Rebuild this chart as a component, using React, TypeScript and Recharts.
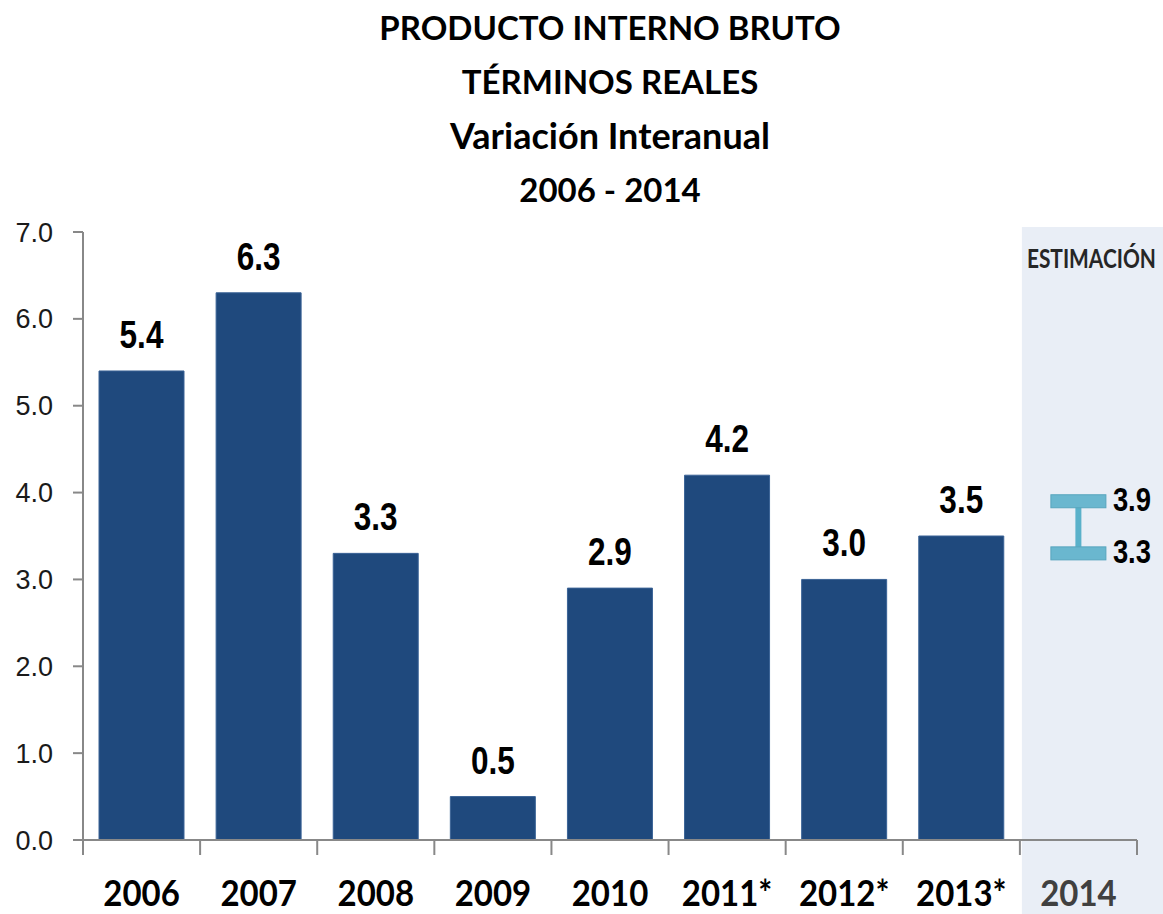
import React from 'react';
import { ComposedChart, Bar, XAxis, YAxis, ReferenceArea, LabelList } from 'recharts';

const years = ['2006', '2007', '2008', '2009', '2010', '2011*', '2012*', '2013*', '2014'];
const growth = [5.4, 6.3, 3.3, 0.5, 2.9, 4.2, 3.0, 3.5, null];
const estimateLow = [null, null, null, null, null, null, null, null, 3.3];
const estimateHigh = [null, null, null, null, null, null, null, null, 3.9];
const yTicks = [0, 1, 2, 3, 4, 5, 6, 7];
const titleLines = ['PRODUCTO INTERNO BRUTO', 'TÉRMINOS REALES', 'Variación Interanual', '2006 - 2014'];
const estimateYear = '2014';
const estimateLabel = 'ESTIMACIÓN';

const data = years.map((year, i) => ({
  year,
  growth: growth[i],
  estimate: estimateLow[i] != null ? [estimateLow[i], estimateHigh[i]] : null,
}));

const W = 1163;
const H = 914;
const arial = "'Liberation Sans', Arial, sans-serif";
const axisGrey = '#888';

// narrow bold numbers, like Arial Narrow
const NarrowText = ({ x, y, anchor, size, children }: any) => (
  <text transform={`translate(${x},${y}) scale(0.83,1)`} textAnchor={anchor} fontFamily={arial}
    fontWeight={700} fontSize={size} fill="#000">
    {children}
  </text>
);

// x tick: label at the category centre, tick marks at the category edges
const XTick = (props: any) => {
  const { x, y, payload, index, visibleTicksCount } = props;
  const half = payload.offset || 58.5;
  const isEst = payload.value === estimateYear;
  const last = index === visibleTicksCount - 1;
  return (
    <g>
      <line x1={x - half} x2={x - half} y1={y} y2={y + 15} stroke={axisGrey} strokeWidth={2} />
      {last && <line x1={x + half} x2={x + half} y1={y} y2={y + 15} stroke={axisGrey} strokeWidth={2} />}
      <text transform={`translate(${x},${y + 66}) scale(1,1.1)`} textAnchor="middle" fontFamily="Lato"
        fontWeight={700} fontSize={33} fill={isEst ? '#404040' : '#000'}>
        {payload.value}
      </text>
    </g>
  );
};

const ValueLabel = (props: any) => {
  const { x, y, width, value } = props;
  if (value == null) return null;
  return <NarrowText x={x + width / 2} y={y - 23} anchor="middle" size={38}>{Number(value).toFixed(1)}</NarrowText>;
};

const EstimateShape = (props: any) => {
  const { x, y, width, height, payload } = props;
  if (!payload || !payload.estimate) return null;
  const top = Math.min(y, y + height);
  const bottom = Math.max(y, y + height);
  const cx = x + width / 2;
  const capH = 13;
  return (
    <g>
      <line x1={cx} x2={cx} y1={top} y2={bottom} stroke="#5AB1CA" strokeWidth={6} />
      <rect x={x} y={top - capH / 2} width={width} height={capH} fill="#6AB7CF" stroke="#57A5BE" />
      <rect x={x} y={bottom - capH / 2} width={width} height={capH} fill="#6AB7CF" stroke="#57A5BE" />
      <NarrowText x={x + width + 7} y={top + 10} anchor="start" size={33}>{payload.estimate[1].toFixed(1)}</NarrowText>
      <NarrowText x={x + width + 7} y={bottom + 10} anchor="start" size={33}>{payload.estimate[0].toFixed(1)}</NarrowText>
    </g>
  );
};

const BandShape = (props: any) => {
  const { x, y } = props;
  return (
    <g>
      <rect x={x + 2} y={y - 5} width={W - x - 2} height={H - y + 5} fill="#E9EEF6" />
      <text transform={`translate(${x + 7},${y + 36}) scale(0.95,1.2)`} fontFamily="Lato" fontWeight={700}
        fontSize={22} fill="#262626">
        {estimateLabel}
      </text>
    </g>
  );
};

export default function App() {
  return (
    <div style={{ position: 'absolute', left: 0, top: 0, width: W, height: H, background: '#fff' }}>
      <ComposedChart width={W} height={H} data={data} margin={{ top: 232, right: 26, bottom: 0, left: 0 }}>
        <ReferenceArea x1={estimateYear} x2={estimateYear} shape={BandShape} ifOverflow="visible" />
        <XAxis dataKey="year" height={74} tickSize={0} tickMargin={0} tickLine={false} tick={XTick} interval={0}
          axisLine={{ stroke: axisGrey, strokeWidth: 2 }} />
        <XAxis dataKey="year" xAxisId="est" hide />
        <YAxis width={83} domain={[0, 7]} ticks={yTicks} interval={0} tickSize={10} tickMargin={20}
          tickFormatter={(v: number) => v.toFixed(1)}
          tick={{ fontFamily: arial, fontSize: 27, fill: '#1a1a1a' }}
          axisLine={{ stroke: axisGrey, strokeWidth: 2 }} tickLine={{ stroke: axisGrey, strokeWidth: 2 }} />
        <Bar dataKey="growth" barSize={85} fill="#1F497D" stroke="#3A6396" strokeWidth={1} isAnimationActive={false}>
          <LabelList dataKey="growth" content={ValueLabel} />
        </Bar>
        <Bar dataKey="estimate" xAxisId="est" barSize={55} shape={EstimateShape} isAnimationActive={false} />
      </ComposedChart>
      <div style={{ position: 'absolute', left: 83, top: 0, width: 1054, textAlign: 'center',
        fontFamily: 'Lato', fontWeight: 700, fontSize: 33, lineHeight: '54px', color: '#000' }}>
        {titleLines.map((t, i) => <div key={t} style={{ fontSize: i === 2 ? 36 : 33 }}>{t}</div>)}
      </div>
    </div>
  );
}
